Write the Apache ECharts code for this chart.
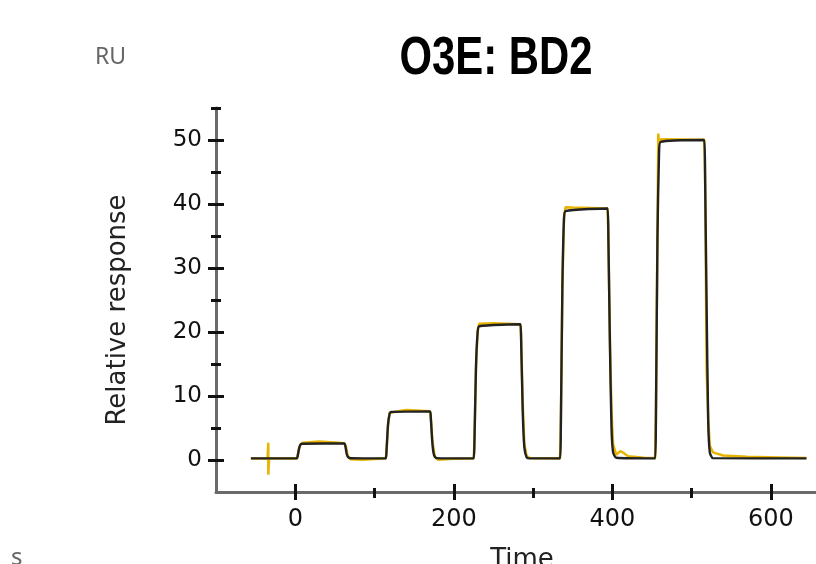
<!DOCTYPE html>
<html>
<head>
<meta charset="utf-8">
<script src="https://cdn.jsdelivr.net/npm/echarts@6/dist/echarts.min.js"></script>
<style>html,body{margin:0;padding:0;background:#fff}#c{width:816px;height:564px}</style>
</head>
<body>
<div id="c"></div>
<script>
// ---- data ----
const titleText = 'O3E: BD2';
const xTickLabels = [0, 200, 400, 600];
const xMinorTicks = [100, 300, 500];
const yTickLabels = [0, 10, 20, 30, 40, 50];
const yMinorTicks = [5, 15, 25, 35, 45, 55];

// fitted curve (black)
const fitTime = [-56, 2, 3, 5, 7, 9, 62, 63, 65, 67, 70,
  114, 115, 117, 119, 121, 170, 171, 173, 175, 178,
  225, 226, 228, 230, 232, 284, 285, 287, 289, 292, 296,
  334, 335, 337, 339, 341, 394, 395, 397, 399, 401, 405,
  454, 455, 457, 459, 461, 516, 517, 519, 521, 523, 527, 645];
const fitResp = [0.25, 0.25, 0.6, 1.9, 2.45, 2.55, 2.6, 2.3, 0.9, 0.4, 0.28,
  0.25, 1.2, 5.5, 7.2, 7.5, 7.6, 6.6, 2.6, 0.8, 0.3,
  0.25, 2.5, 14.5, 19.8, 20.9, 21.2, 18.5, 7.5, 2.0, 0.4, 0.25,
  0.25, 4.5, 27, 37.5, 38.9, 39.3, 35, 18, 5.0, 1.2, 0.35,
  0.25, 6, 35, 48, 49.7, 50.0, 45, 24, 6, 1.2, 0.3, 0.25];

// measured response (yellow)
const obsTime = [-56, -35, -34, -34, -33, 2, 3, 5, 7, 10, 30, 50, 62, 64, 66, 70, 85, 100,
  114, 115, 117, 119, 121, 140, 170, 171, 173, 176, 180, 200,
  225, 226, 228, 230, 232, 250, 284, 285, 287, 289, 292, 296,
  334, 335, 337, 339, 341, 350, 394, 395, 397, 399, 401, 405, 410, 413, 420, 440,
  454, 455, 457, 458, 459, 461, 516, 517, 518, 519, 521, 523, 527, 540, 570, 610, 645];
const obsResp = [0.25, 0.25, 2.7, -2.3, 0.25, 0.25, 0.6, 1.9, 2.5, 2.7, 2.9, 2.75, 2.6, 2.1, 0.7, 0.1, 0.05, 0.15,
  0.25, 1.0, 5.3, 7.4, 7.7, 7.8, 7.6, 6.8, 3.0, 0.5, 0.05, 0.2,
  0.25, 2.4, 14.3, 20.0, 21.3, 21.35, 21.2, 19.0, 9.0, 2.5, 0.6, 0.3,
  0.25, 4.3, 26.5, 37.8, 39.5, 39.45, 39.3, 35.5, 19.0, 7.5, 2.5, 0.8, 1.4, 1.2, 0.6, 0.35,
  0.3, 6.5, 36, 51, 49.5, 50.1, 50.05, 45.5, 30, 14, 6.5, 2.2, 1.2, 0.7, 0.5, 0.4, 0.3];

// ---- chart ----
const fitData = fitTime.map((t, i) => [t, fitResp[i]]);
const obsData = obsTime.map((t, i) => [t, obsResp[i]]);

const FONT = 'DejaVu Sans';
const TICK_COLOR = '#111';
const X_MIN = -100, X_MAX = 657, Y_MIN = -5, Y_MAX = 55;

function xAx(opts) {
  return Object.assign({
    type: 'value', gridIndex: 0, position: 'bottom', min: X_MIN, max: X_MAX,
    splitLine: { show: false },
    axisLine: { show: false, onZero: false },
    axisLabel: { show: false },
    axisTick: { show: false }
  }, opts);
}
function yAx(opts) {
  return Object.assign({
    type: 'value', gridIndex: 0, position: 'left', min: Y_MIN, max: Y_MAX,
    splitLine: { show: false },
    axisLine: { show: false, onZero: false },
    axisLabel: { show: false },
    axisTick: { show: false }
  }, opts);
}

const chart = echarts.init(document.getElementById('c'), null, { renderer: 'canvas' });
chart.setOption({
  animation: false,
  backgroundColor: '#fff',
  graphic: [
    { type: 'text', x: 496, y: 59, scaleX: 0.79, z: 10,
      style: { text: titleText, align: 'center', verticalAlign: 'middle',
        fontFamily: 'Liberation Sans, Arial, sans-serif', fontWeight: 'bold', fontSize: 53, fill: '#000' } },
    { type: 'text', x: 95, y: 57, z: 10,
      style: { text: 'RU', verticalAlign: 'middle', fontFamily: 'Noto Sans, DejaVu Sans', fontSize: 23, fill: '#666' } },
    { type: 'text', x: 11, y: 546, z: 10,
      style: { text: 's', verticalAlign: 'top', fontFamily: 'Noto Sans, DejaVu Sans', fontSize: 24, fill: '#666' } },
    { type: 'text', x: 118, y: 310, rotation: Math.PI / 2, z: 10,
      style: { text: 'Relative response', align: 'center', verticalAlign: 'middle', fontFamily: FONT, fontSize: 26, fill: '#222' } }
  ],
  grid: { left: 216, top: 108, right: 0, bottom: 72, containLabel: false, outerBoundsMode: 'none' },
  xAxis: [
    xAx({
      axisLine: { show: true, onZero: false, lineStyle: { color: '#6a6a6a', width: 3 } },
      axisTick: { show: true, customValues: xTickLabels, length: 8, lineStyle: { color: TICK_COLOR, width: 3 } },
      axisLabel: { show: true, customValues: xTickLabels, margin: 16, fontFamily: FONT, fontSize: 24, color: '#111' },
      name: 'Time', nameLocation: 'middle', nameGap: 55,
      nameTextStyle: { fontFamily: FONT, fontSize: 26, color: '#222', verticalAlign: 'top', padding: [0, 0, 0, 12] }
    }),
    xAx({ axisTick: { show: true, inside: true, customValues: xTickLabels, length: 8, lineStyle: { color: TICK_COLOR, width: 3 } } }),
    xAx({ axisTick: { show: true, customValues: xMinorTicks, length: 6, lineStyle: { color: TICK_COLOR, width: 3 } } }),
    xAx({ axisTick: { show: true, inside: true, customValues: xMinorTicks, length: 4, lineStyle: { color: TICK_COLOR, width: 3 } } })
  ],
  yAxis: [
    yAx({
      axisLine: { show: true, onZero: false, lineStyle: { color: '#6a6a6a', width: 3 } },
      axisTick: { show: true, customValues: yTickLabels, length: 8, lineStyle: { color: TICK_COLOR, width: 3 } },
      axisLabel: { show: true, customValues: yTickLabels, margin: 14, fontFamily: FONT, fontSize: 23, color: '#111' }
    }),
    yAx({ axisTick: { show: true, inside: true, customValues: yTickLabels, length: 8, lineStyle: { color: TICK_COLOR, width: 3 } } }),
    yAx({ axisTick: { show: true, customValues: yMinorTicks, length: 5, lineStyle: { color: TICK_COLOR, width: 3 } } }),
    yAx({ axisTick: { show: true, inside: true, customValues: yMinorTicks, length: 5, lineStyle: { color: TICK_COLOR, width: 3 } } })
  ],
  series: [
    {
      name: 'Measured', type: 'line', xAxisIndex: 0, yAxisIndex: 0, data: obsData,
      showSymbol: false, symbol: 'none', smooth: false,
      lineStyle: { color: '#e8b400', width: 2.5 }, z: 2
    },
    {
      name: 'Fit', type: 'line', xAxisIndex: 0, yAxisIndex: 0, data: fitData,
      showSymbol: false, symbol: 'none', smooth: 0.2,
      lineStyle: { color: '#222', width: 2.4 }, z: 3
    }
  ]
});
</script>
</body>
</html>
